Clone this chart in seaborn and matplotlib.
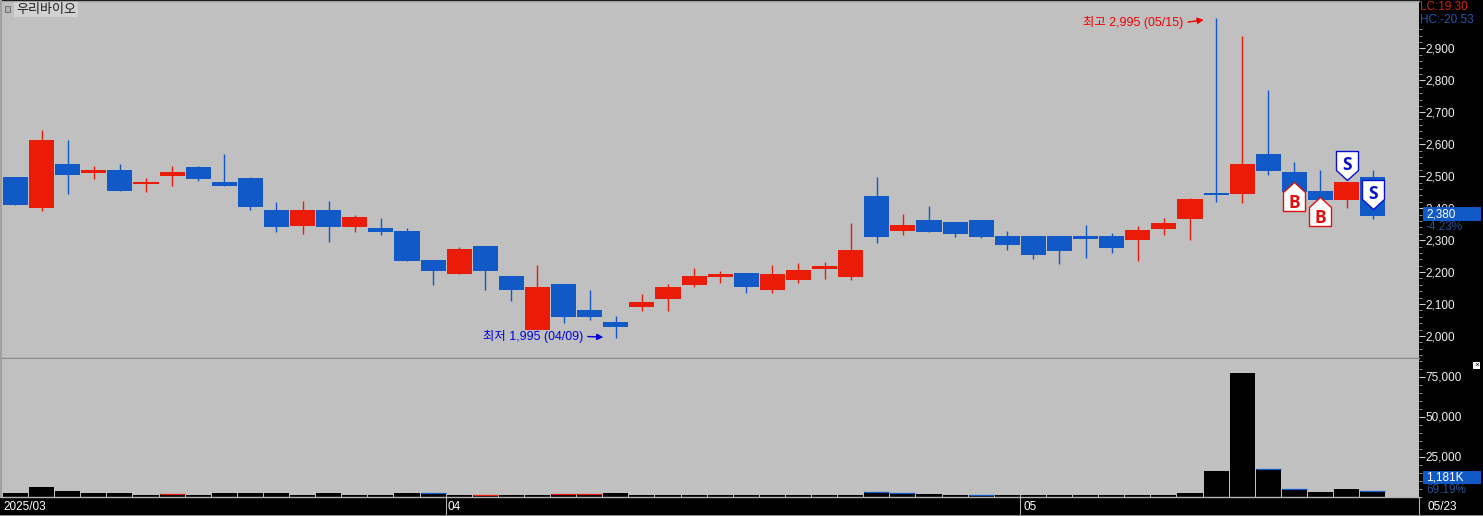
import matplotlib
matplotlib.use('Agg')
import matplotlib.pyplot as plt
from matplotlib.patches import Rectangle
from matplotlib.path import Path
from matplotlib.ticker import FixedLocator, FuncFormatter, MultipleLocator
import numpy as np
import pandas as pd
import seaborn as sns

# Daily candles
opens = [2498, 2401, 2538, 2510, 2520, 2476, 2501, 2529, 2482, 2495, 2394, 2344, 2394, 2341, 2338, 2329, 2238, 2194,
         2282, 2188, 2019, 2163, 2081, 2044, 2091, 2116, 2159, 2185, 2197, 2144, 2175, 2210, 2185, 2438, 2329, 2363,
         2357, 2363, 2313, 2313, 2313, 2313, 2313, 2300, 2335, 2366, 2448, 2444, 2570, 2513, 2454, 2426, 2498]
closes = [2410, 2614, 2504, 2520, 2454, 2483, 2514, 2491, 2470, 2404, 2341, 2394, 2341, 2372, 2325, 2235, 2203, 2272,
          2203, 2144, 2153, 2059, 2059, 2028, 2106, 2153, 2188, 2194, 2153, 2194, 2206, 2219, 2269, 2310, 2347, 2325,
          2319, 2310, 2285, 2253, 2266, 2303, 2275, 2332, 2354, 2429, 2441, 2538, 2516, 2451, 2426, 2482, 2376]
highs = [2498, 2645, 2614, 2532, 2538, 2495, 2532, 2533, 2570, 2498, 2419, 2422, 2422, 2379, 2369, 2338, 2238, 2279,
         2282, 2188, 2222, 2163, 2144, 2062, 2131, 2163, 2213, 2203, 2197, 2222, 2228, 2232, 2354, 2498, 2382, 2407,
         2357, 2363, 2329, 2313, 2313, 2347, 2322, 2344, 2369, 2432, 2995, 2939, 2770, 2545, 2520, 2482, 2520]
lows = [2410, 2391, 2444, 2491, 2454, 2451, 2470, 2485, 2470, 2394, 2325, 2319, 2294, 2325, 2316, 2235, 2160, 2194,
        2144, 2109, 2019, 2040, 2050, 1995, 2078, 2078, 2153, 2166, 2134, 2134, 2166, 2178, 2175, 2291, 2316, 2325,
        2310, 2307, 2269, 2241, 2225, 2244, 2260, 2235, 2316, 2300, 2419, 2416, 2504, 2451, 2426, 2401, 2366]
volumes = [2200, 6250, 3750, 1900, 1900, 1250, 1500, 1250, 1900, 1900, 1900, 1250, 1900, 1250, 1250, 1900, 1900, 1000,
           1250, 1250, 1000, 1500, 1500, 1900, 1000, 1000, 1000, 1000, 1000, 1000, 1000, 1000, 1000, 3100, 1900, 1500,
           1250, 1000, 1000, 800, 700, 800, 1000, 1000, 1000, 1900, 16200, 76900, 16900, 5000, 3100, 5000, 3750]
vol_red_tops = [6, 18, 21, 22]
vol_blue_tops = [16, 33, 34, 37, 48, 49, 52]

buy_idx = [49, 50]
buy_prices = [2482, 2435]
sell_idx = [51, 52]
sell_prices = [2488, 2397]

price_ticks = [2000, 2100, 2200, 2300, 2400, 2500, 2600, 2700, 2800, 2900]
volume_ticks = [25000, 50000, 75000]
month_edges = [16.5, 38.5]

RED = '#ea1c08'
BLUE = '#1259c8'
BG = '#c0c0c0'
W, H = 1483, 516

sns.set_theme(style='white')
plt.rcParams['font.family'] = ['Liberation Sans', 'Noto Sans CJK KR', 'DejaVu Sans']
plt.rcParams['font.size'] = 8.5


def rect(left, top, right, bottom):
    # figure rectangle from pixel edges, y counted from the top
    return [left / W, 1 - bottom / H, (right - left) / W, (bottom - top) / H]


def label(x, y, s, color='white', **kw):
    fig.text(x / W, 1 - y / H, s, color=color, va='center', **kw)


fig = plt.figure(figsize=(W / 100, H / 100), dpi=100, facecolor='black')
ax = fig.add_axes(rect(1, 0.5, 1418.5, 358))
vax = fig.add_axes(rect(1, 358.5, 1418.5, 496.5), sharex=ax)

# Candles
x = np.arange(len(opens))
o, c = np.array(opens), np.array(closes)
colors = [RED if b > a else BLUE for a, b in zip(opens, closes)]
ax.vlines(x, lows, highs, colors=colors, lw=1, zorder=2, snap=True)
ax.bar(x, np.maximum(np.abs(c - o), 6), bottom=np.minimum(o, c), width=0.96, color=colors, lw=0, zorder=3)

# Buy / sell flags, tip of the flag sits on the price
buy_path = Path([(0, 0), (11, -10), (11, -29), (-11, -29), (-11, -10), (0, 0)], closed=True)
sell_path = Path([(0, 0), (11, 10), (11, 29), (-11, 29), (-11, 10), (0, 0)], closed=True)
ax.scatter(buy_idx, buy_prices, marker=buy_path, s=1744, c='white', edgecolors='#e01010', linewidths=1, zorder=5)
ax.scatter(sell_idx, sell_prices, marker=sell_path, s=1744, c='white', edgecolors='#0a10d0', linewidths=1, zorder=5)
for i, p in zip(buy_idx, buy_prices):
    ax.annotate('B', (i, p), xytext=(0, -21), textcoords='offset pixels', ha='center', va='center', color='#e01010',
                fontsize=12.5, fontweight='bold', family='Open Sans', zorder=6)
for i, p in zip(sell_idx, sell_prices):
    ax.annotate('S', (i, p), xytext=(0, 15), textcoords='offset pixels', ha='center', va='center', color='#0a10d0',
                fontsize=12.5, fontweight='bold', family='Open Sans', zorder=6)

# High / low notes
ax.annotate('', xy=(46, max(highs)), xytext=(-28, -4), textcoords='offset pixels', annotation_clip=False,
            arrowprops=dict(arrowstyle='-|>', color='#f00000', lw=1, shrinkA=0, shrinkB=9, mutation_scale=9))
ax.annotate('최고 2,995 (05/15)', (46, max(highs)), xytext=(-33, -4), textcoords='offset pixels', ha='right',
            va='center', color='#f00000', fontsize=8.9)
ax.annotate('', xy=(23, min(lows)), xytext=(-28, 1), textcoords='offset pixels',
            arrowprops=dict(arrowstyle='-|>', color='#0000e0', lw=1, shrinkA=0, shrinkB=9, mutation_scale=9))
ax.annotate('최저 1,995 (04/09)', (23, min(lows)), xytext=(-33, 1), textcoords='offset pixels', ha='right',
            va='center', color='#0000e0', fontsize=8.9)

# Volume
vol = pd.DataFrame({'day': x, 'volume': volumes})
sns.barplot(data=vol, x='day', y='volume', ax=vax, native_scale=True, width=0.96, color='black', saturation=1,
            linewidth=0, zorder=2)
vols = np.array(volumes)
vax.hlines(vols[vol_red_tops], x[vol_red_tops] - 0.48, x[vol_red_tops] + 0.48, colors=RED, lw=0.9, zorder=3)
vax.hlines(vols[vol_blue_tops], x[vol_blue_tops] - 0.48, x[vol_blue_tops] + 0.48, colors=BLUE, lw=0.9, zorder=3)

# Axes
comma = FuncFormatter(lambda v, _: f'{int(v):,}')
for a in (ax, vax):
    a.set_facecolor(BG)
    a.set_xlabel('')
    a.set_ylabel('')
    a.yaxis.tick_right()
    a.yaxis.set_major_formatter(comma)
    a.tick_params(axis='y', which='major', length=4, width=0.8, color='#d0d0d0', labelcolor='#f0f0f0',
                  labelsize=8.5, pad=1, right=True)
    a.tick_params(axis='y', which='minor', length=2.2, width=0.7, color='#909090', right=True)
    for side in ('top', 'right', 'bottom', 'left'):
        a.spines[side].set_visible(False)
ax.set_xlim(-0.555, 53.755)
ax.set_ylim(1931, 3050)
ax.set_yticks(price_ticks)
ax.yaxis.set_minor_locator(FixedLocator(np.arange(1940, 2961, 20)))
ax.tick_params(axis='x', bottom=False, labelbottom=False)
vax.set_ylim(0, 86250)
vax.set_yticks(volume_ticks)
vax.yaxis.set_minor_locator(MultipleLocator(5000))
vax.set_xticks(month_edges + [53.755])
vax.tick_params(axis='x', bottom=True, length=14, width=0.8, color='#b0b0b0', labelbottom=False)
ax.spines['left'].set_visible(True)
ax.spines['left'].set(color='#a0a0a0', lw=1.5)
ax.spines['top'].set_visible(True)
ax.spines['top'].set(color='#a0a0a0', lw=1)
ax.spines['bottom'].set_visible(True)
ax.spines['bottom'].set(color='#8c8c8c', lw=1)
vax.spines['left'].set_visible(True)
vax.spines['left'].set(color='#a0a0a0', lw=1.5)
vax.spines['bottom'].set_visible(True)
vax.spines['bottom'].set(color='#b4b4b4', lw=1)

# Title tag and right-hand read-outs
fig.add_artist(Rectangle((5 / W, 1 - 12 / H), 5 / W, 6 / H, transform=fig.transFigure, fc='#b0b0b0', ec='#707070', lw=0.7))
label(16, 9.5, '우리바이오', color='#202020', fontsize=9.4,
      bbox=dict(fc='#d2d2d2', ec='none', pad=1.2))
label(1420, 7, 'LC:19.30', color='#d02418')
label(1420, 20, 'HC:-20.53', color='#2456b4')
fig.add_artist(Rectangle((1423 / W, 1 - 221 / H), 58 / W, 14 / H, transform=fig.transFigure, fc=BLUE, ec='none'))
label(1426, 214, '2,380')
label(1426, 227, '-4.23%', color='#2c508f')
fig.add_artist(Rectangle((1423 / W, 1 - 484 / H), 58 / W, 13 / H, transform=fig.transFigure, fc=BLUE, ec='none'))
label(1426, 477, '1,181K')
label(1426, 490, '69.19%', color='#2c508f')
fig.add_artist(Rectangle((1473 / W, 1 - 369 / H), 7 / W, 7 / H, transform=fig.transFigure, fc='white', ec='none'))
label(1474.5, 365.5, '×', color='black', fontsize=6)

# Date strip
label(3, 507, '2025/03')
label(448, 507, '04')
label(1023, 507, '05')
label(1427, 507, '05/23')
fig.add_artist(Rectangle((0, 0), 1, 1 / H, transform=fig.transFigure, fc='#8c8c8c', ec='none'))

fig.savefig('out.png', dpi=100, facecolor='black')
